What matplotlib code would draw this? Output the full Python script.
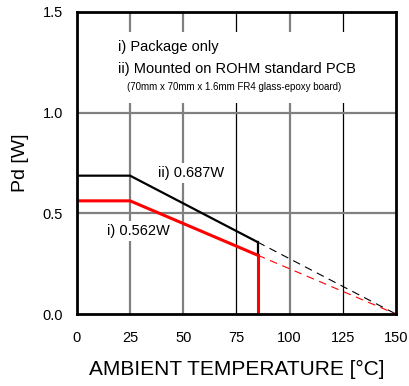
import matplotlib
matplotlib.use("Agg")
import matplotlib.pyplot as plt
from matplotlib.patches import Rectangle

plt.rcParams['font.family'] = ['Liberation Sans', 'DejaVu Sans']

# derating curves (temperature in degC, power in W)
temp_solid = [0, 25, 85]
temp_dash = [85, 150]
pd_pkg = [0.562, 0.562, 0.292]      # i) package only
pd_pkg_dash = [0.292, 0.0]
pd_pcb = [0.687, 0.687, 0.357]      # ii) on ROHM PCB
pd_pcb_dash = [0.357, 0.0]
t_max = 85

xticks = [0, 25, 50, 75, 100, 125, 150]
yticks = [0.0, 0.5, 1.0, 1.5]

fig = plt.figure(figsize=(4.09, 3.86), dpi=100)
ax = fig.add_axes([0.188, 0.1865, 0.78, 0.7825])

# grid, drawn by hand so some lines can be darker
for x in [25, 50, 100]:
    ax.axvline(x, color='#808080', lw=1.6, zorder=1)
for x in [75, 125]:
    ax.axvline(x, color='black', lw=0.9, zorder=1)
for y in [0.5, 1.0]:
    ax.axhline(y, color='#808080', lw=1.6, zorder=1)

# white area behind the legend text
ax.add_patch(Rectangle((20, 1.05), 112, 0.35, facecolor='white',
                       edgecolor='none', zorder=1.5))

ax.plot(temp_solid, pd_pcb, color='black', lw=1.6, zorder=3)
ax.plot(temp_dash, pd_pcb_dash, color='black', lw=0.8, ls=(0, (7, 5)), zorder=3)
ax.plot([t_max, t_max], [pd_pkg[-1], pd_pcb[-1]], color='black', lw=1.6, zorder=3)

ax.plot(temp_solid, pd_pkg, color='#ff0000', lw=2.2, zorder=4)
ax.plot(temp_dash, pd_pkg_dash, color='#ff0000', lw=0.8, ls=(0, (7, 5)), zorder=4)
ax.plot([t_max, t_max], [0, pd_pkg[-1]], color='#ff0000', lw=2.2, zorder=4)

ax.text(19.5, 1.326, 'i) Package only', fontsize=10.5, va='center', zorder=5)
ax.text(19.5, 1.217, 'ii) Mounted on ROHM standard PCB', fontsize=10.5,
        va='center', zorder=5)
ax.text(23.5, 1.127, '(70mm x 70mm x 1.6mm FR4 glass-epoxy board)', fontsize=7,
        va='center', zorder=5)

ax.text(38, 0.70, 'ii) 0.687W', fontsize=10.5, va='center', zorder=5,
        bbox=dict(facecolor='white', edgecolor='none', pad=2))
ax.text(14, 0.412, 'i) 0.562W', fontsize=10.5, va='center', zorder=5,
        bbox=dict(facecolor='white', edgecolor='none', pad=2))

ax.set_xlim(0, 150)
ax.set_ylim(0, 1.5)
ax.set_xticks(xticks)
ax.set_yticks(yticks)
ax.set_xticklabels([str(x) for x in xticks])
ax.set_yticklabels(['%.1f' % y for y in yticks])
ax.tick_params(axis='both', length=0, labelsize=10.5)
ax.tick_params(axis='x', pad=12)
ax.tick_params(axis='y', pad=10)

for s in ax.spines.values():
    s.set_linewidth(2.0)
    s.set_zorder(6)

ax.set_xlabel('AMBIENT TEMPERATURE [°C]', fontsize=15, labelpad=11)
ax.set_ylabel('Pd [W]', fontsize=14, labelpad=10)

fig.savefig('out.png', dpi=100)
